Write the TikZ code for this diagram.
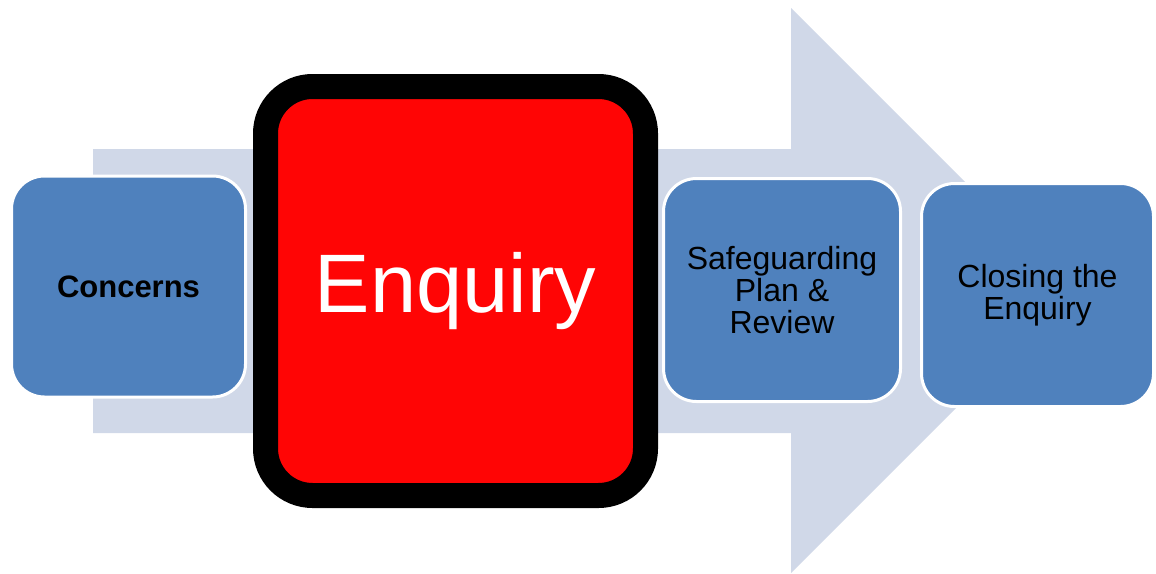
\documentclass[tikz,border=0pt]{standalone}
\usepackage{fontspec}
\setmainfont{Liberation Sans}
\definecolor{arrowfill}{RGB}{208,216,232}
\definecolor{boxblue}{RGB}{79,129,189}
\definecolor{enqred}{RGB}{255,5,5}
\begin{document}
\begin{tikzpicture}[x=1pt,y=-1pt,
  stagebox/.style={draw=white,line width=3pt,fill=boxblue,rounded corners=33pt,
    inner sep=0pt,align=center,text=black,font=\fontsize{32}{32}\selectfont},
  focusbox/.style={draw=black,line width=25pt,fill=enqred,rounded corners=47pt,
    inner sep=0pt,align=center,text=white,font=\fontsize{83}{85}\selectfont}]
\useasboundingbox[fill=white] (0,0) rectangle (1156,573);
% big background arrow
\fill[arrowfill] (93,149) -- (791,149) -- (791,8) -- (1073.5,290.5) -- (791,573)
  -- (791,433) -- (93,433) -- cycle;
\node[stagebox,minimum width=234pt,minimum height=221pt,font=\fontsize{31}{32}\selectfont\bfseries]
  (concerns) at (128.5,286.5) {Concerns};
\node[focusbox,minimum width=380pt,minimum height=409pt] (enquiry) at (455.5,291) {Enquiry};
\node[stagebox,minimum width=237pt,minimum height=223pt] (plan) at (782,290)
  {Safeguarding\\Plan \&\\Review};
\node[stagebox,minimum width=232pt,minimum height=223pt] (closing) at (1037.5,295)
  {Closing the\\Enquiry};
\end{tikzpicture}
\end{document}
